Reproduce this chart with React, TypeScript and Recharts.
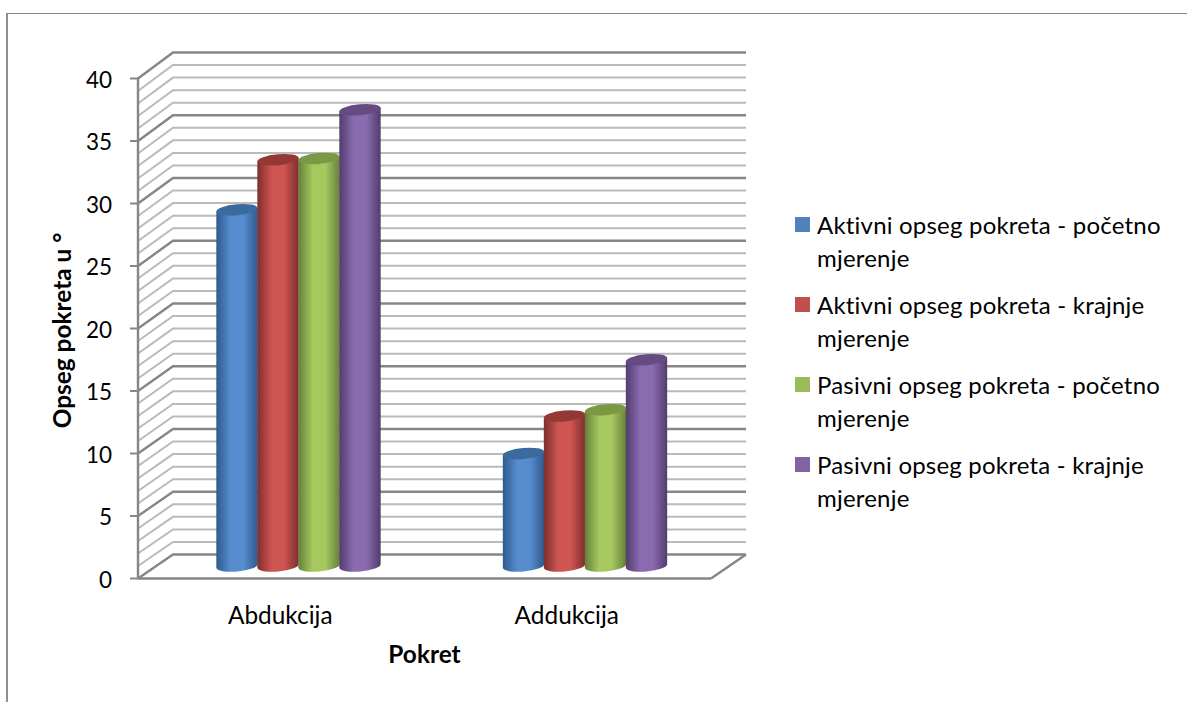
import { BarChart, Bar, XAxis, YAxis, CartesianGrid, Legend } from "recharts";

const categories = ["Abdukcija", "Addukcija"];
const aktivniPocetno = [28.5, 9];
const aktivniKrajnje = [32.5, 12];
const pasivniPocetno = [32.6, 12.5];
const pasivniKrajnje = [36.5, 16.5];
const yTicks = [0, 5, 10, 15, 20, 25, 30, 35, 40];
const gridValues = Array.from({ length: 41 }, (_, i) => i);

const data = categories.map((name, i) => ({
  name,
  a: aktivniPocetno[i],
  b: aktivniKrajnje[i],
  c: pasivniPocetno[i],
  d: pasivniKrajnje[i],
}));

const FONT = "Lato, Carlito, sans-serif";
const DEPTH_X = 35;
const DEPTH_Y = 25;
const TILT = 5;
const PLOT_MID_Y = 328.5;

const seriesList = [
  { key: "a", name: "Aktivni opseg pokreta - početno mjerenje", swatch: "#4f81bd", edge: "#2f5a8e", mid: "#578dcf", top: "#3b6a9e" },
  { key: "b", name: "Aktivni opseg pokreta - krajnje mjerenje", swatch: "#c0504d", edge: "#7d2f2d", mid: "#cf5552", top: "#943836" },
  { key: "c", name: "Pasivni opseg pokreta - početno mjerenje", swatch: "#9bbb59", edge: "#66803a", mid: "#a6c95f", top: "#7b9845" },
  { key: "d", name: "Pasivni opseg pokreta - krajnje mjerenje", swatch: "#8064a2", edge: "#523d6d", mid: "#8a6bb0", top: "#654a84" },
];

// cylinder sits halfway into the floor depth
function cylinder(idx: number) {
  const s = seriesList[idx];
  return (props: any) => {
    const { x, y, width, height } = props;
    const rx = width / 2 + 0.25;
    const ry = 5.5;
    const cx = x + width / 2 + DEPTH_X / 2;
    const topY = y - DEPTH_Y / 2;
    const botY = y + height - DEPTH_Y / 2;
    const rad = (TILT * Math.PI) / 180;
    const dx = rx * Math.cos(rad);
    const dy = rx * Math.sin(rad);
    const d = `M${cx - dx} ${topY + dy} L${cx - dx} ${botY + dy} A${rx} ${ry} ${-TILT} 0 0 ${cx + dx} ${botY - dy} L${cx + dx} ${topY - dy} Z`;
    return (
      <g>
        <path d={d} fill={`url(#cyl-${s.key})`} />
        <ellipse cx={cx} cy={topY} rx={rx} ry={ry} fill={s.top} transform={`rotate(${-TILT} ${cx} ${topY})`} />
      </g>
    );
  };
}

// back wall + side wall line for one value, back wall is a touch taller than the front
function wallLine(props: any) {
  const { x1, y1, x2, index } = props;
  const major = index % 5 === 0;
  const color = major ? "#868686" : "#bababa";
  const backY = y1 - DEPTH_Y + (y1 - PLOT_MID_Y) * 0.004;
  return (
    <g key={`wall-${index}`}>
      <polyline
        points={`${x1},${y1} ${x1 + DEPTH_X},${backY} ${x2 + DEPTH_X},${backY}`}
        fill="none"
        stroke={color}
        strokeWidth={major ? 2.4 : 2}
      />
      {y1 > PLOT_MID_Y && (index === 0 || index === 40) ? (
        <polyline points={`${x2},${y1} ${x2 + DEPTH_X},${backY}`} fill="none" stroke={color} strokeWidth={2.4} />
      ) : null}
    </g>
  );
}

function legendContent() {
  return (
    <div style={{ fontFamily: FONT, fontSize: 24, letterSpacing: 0.2, lineHeight: "33px", color: "#000" }}>
      {seriesList.map((s) => (
        <div key={s.key} style={{ position: "relative", paddingLeft: 22, width: 352, height: 80 }}>
          <span
            style={{ position: "absolute", left: 0, top: 9, width: 15, height: 15, background: s.swatch }}
          />
          {s.name}
        </div>
      ))}
    </div>
  );
}

export default function App() {
  return (
    <div style={{ position: "absolute", left: 0, top: 0, width: 1187, height: 702, background: "#fff" }}>
      <div
        style={{
          position: "absolute",
          left: 6,
          top: 13,
          width: 1181,
          height: 689,
          borderTop: "1px solid #868686",
          borderLeft: "2px solid #8e8e8e",
          boxSizing: "border-box",
        }}
      />
      <BarChart
        width={1187}
        height={702}
        data={data}
        margin={{ top: 78.5, right: 476, bottom: 23.5, left: 38 }}
        barCategoryGap={61}
        barGap={0}
        style={{ position: "absolute", left: 0, top: 0 }}
      >
        <defs>
          {seriesList.map((s) => (
            <linearGradient key={s.key} id={`cyl-${s.key}`} x1="0" y1="0" x2="1" y2="0">
              <stop offset="0%" stopColor={s.edge} />
              <stop offset="35%" stopColor={s.mid} />
              <stop offset="65%" stopColor={s.mid} />
              <stop offset="100%" stopColor={s.edge} />
            </linearGradient>
          ))}
        </defs>
        <CartesianGrid vertical={false} horizontal={wallLine} horizontalValues={gridValues} />
        <XAxis
          dataKey="name"
          height={100}
          axisLine={{ stroke: "#868686", strokeWidth: 2.4 }}
          tickLine={false}
          tickMargin={22}
          tick={{ fontFamily: FONT, fontSize: 24.4, fill: "#000", dx: -1 }}
          label={{
            value: "Pokret",
            position: "insideBottom",
            offset: 16,
            style: { fontFamily: FONT, fontSize: 24.4, fontWeight: 700, fill: "#000" },
          }}
        />
        <YAxis
          width={100}
          domain={[0, 40]}
          ticks={yTicks}
          interval={0}
          tickSize={8}
          tickMargin={18}
          axisLine={{ stroke: "#868686", strokeWidth: 2.4 }}
          tickLine={{ stroke: "#868686", strokeWidth: 2 }}
          tick={{ fontFamily: FONT, fontSize: 22.5, fill: "#000", dy: 1.5 }}
          label={{
            value: "Opseg pokreta u °",
            angle: -90,
            position: "insideLeft",
            offset: 24,
            dy: 2,
            style: { textAnchor: "middle", fontFamily: FONT, fontSize: 24.4, fontWeight: 700, fill: "#000" },
          }}
        />
        <Legend
          layout="vertical"
          align="center"
          verticalAlign="middle"
          content={legendContent}
          wrapperStyle={{ left: 795, top: 208, width: 380, height: 320 }}
        />
        {seriesList.map((s, i) => (
          <Bar key={s.key} dataKey={s.key} name={s.name} fill={s.swatch} shape={cylinder(i)} isAnimationActive={false} />
        ))}
      </BarChart>
    </div>
  );
}
